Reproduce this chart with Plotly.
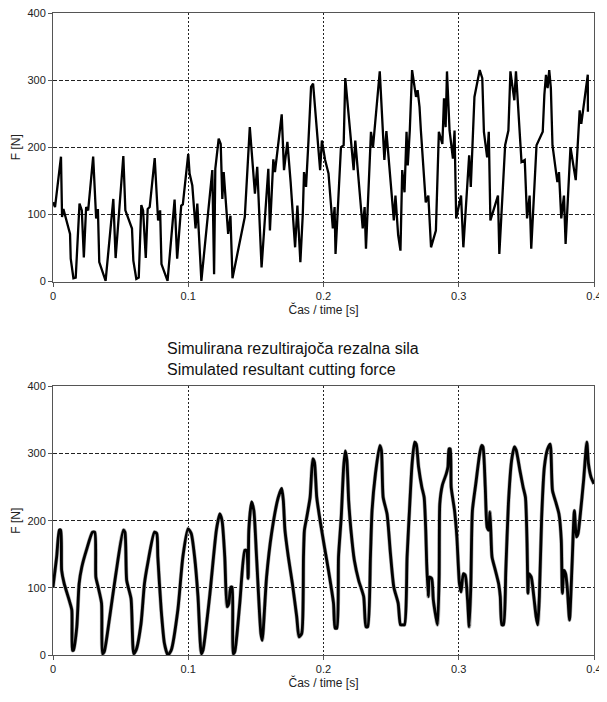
import plotly.graph_objects as go
from plotly.subplots import make_subplots

# Measured (top) force signal
top_t = [0, 0.0015, 0.0059, 0.0067, 0.0077, 0.0126, 0.0131, 0.0151, 0.0168, 0.0196, 0.0213, 0.0228,
         0.0245, 0.0260, 0.0297, 0.0319, 0.0332, 0.0342, 0.0389, 0.0446, 0.0463, 0.0520, 0.0535,
         0.0584, 0.0594, 0.0616, 0.0634, 0.0653, 0.0666, 0.0686, 0.0700, 0.0715, 0.0752, 0.0777,
         0.0792, 0.0802, 0.0847, 0.0899, 0.0918, 0.0948, 0.0960, 0.1000, 0.1010, 0.1030, 0.1054,
         0.1067, 0.1097, 0.1178, 0.1191, 0.1200, 0.1225, 0.1240, 0.1252, 0.1262, 0.1295, 0.1312,
         0.1327, 0.1418, 0.1455, 0.1493, 0.1510, 0.1542, 0.1592, 0.1604, 0.1629, 0.1641, 0.1691,
         0.1708, 0.1733, 0.1757, 0.1790, 0.1807, 0.1829, 0.1847, 0.1856, 0.1871, 0.1889, 0.1908,
         0.1923, 0.1975, 0.1988, 0.2012, 0.2037, 0.2069, 0.2082, 0.2089, 0.2129, 0.2149, 0.2161,
         0.2223, 0.2235, 0.2260, 0.2290, 0.2304, 0.2314, 0.2351, 0.2366, 0.2416, 0.2450, 0.2465,
         0.2520, 0.2532, 0.2552, 0.2569, 0.2582, 0.2599, 0.2614, 0.2623, 0.2638, 0.2655, 0.2684,
         0.2696, 0.2710, 0.2720, 0.2739, 0.2756, 0.2775, 0.2795, 0.2831, 0.2845, 0.2853, 0.2879,
         0.2891, 0.2903, 0.2913, 0.2932, 0.2957, 0.2969, 0.2981, 0.3017, 0.3034, 0.3077, 0.3089,
         0.3101, 0.3116, 0.3155, 0.3174, 0.3186, 0.3210, 0.3222, 0.3234, 0.3290, 0.3300, 0.3343,
         0.3367, 0.3382, 0.3411, 0.3423, 0.3435, 0.3447, 0.3464, 0.3488, 0.3505, 0.3524, 0.3536,
         0.3575, 0.3621, 0.3633, 0.3645, 0.3657, 0.3669, 0.3681, 0.3693, 0.3729, 0.3741, 0.3758,
         0.3778, 0.3790, 0.3826, 0.3865, 0.3894, 0.3906, 0.3954, 0.3955, 0.4000]
top_f = [118, 111, 186, 96, 108, 71, 34, 5, 6, 116, 106, 36,
         111, 106, 186, 94, 108, 29, 1, 123, 35, 187, 106,
         79, 31, 4, 6, 114, 106, 35, 108, 111, 184, 91,
         106, 26, 1, 122, 34, 113, 115, 190, 161, 143, 79,
         116, 1, 166, 11, 168, 213, 205, 123, 163, 71, 98,
         5, 96, 230, 131, 171, 21, 168, 76, 182, 163, 249,
         166, 208, 148, 51, 113, 29, 101, 163, 141, 210, 290,
         295, 166, 210, 181, 161, 79, 111, 41, 200, 203, 303,
         166, 210, 151, 79, 111, 49, 223, 200, 313, 181, 224,
         91, 128, 69, 46, 166, 133, 223, 173, 225, 315,
         275, 285, 260, 225, 163, 118, 128, 51, 76, 178, 223,
         205, 273, 230, 313, 225, 183, 225, 94, 128, 51, 188,
         141, 200, 275, 315, 303, 223, 185, 223, 91, 128, 41,
         203, 225, 313, 270, 313, 270, 223, 178, 181, 94, 128,
         49, 203, 223, 278, 308, 288, 315, 288, 203, 148, 163,
         94, 128, 56, 200, 151, 255, 235, 308, 253]

# Simulated (bottom) force signal
bot_t = [0, 0.0027, 0.0047, 0.0057, 0.0064, 0.0082, 0.0119, 0.0139, 0.0144, 0.0151, 0.0176, 0.0193,
         0.0213, 0.0250, 0.0292, 0.0309, 0.0317, 0.0334, 0.0359, 0.0366, 0.0379, 0.0416, 0.0465,
         0.0520, 0.0532, 0.0545, 0.0577, 0.0597, 0.0614, 0.0651, 0.0676, 0.0700, 0.0750, 0.0767,
         0.0775, 0.0800, 0.0824, 0.0849, 0.0874, 0.0923, 0.0960, 0.0998, 0.1022, 0.1047, 0.1072,
         0.1097, 0.1109, 0.1158, 0.1208, 0.1233, 0.1250, 0.1270, 0.1287, 0.1300, 0.1314, 0.1324,
         0.1332, 0.1344, 0.1381, 0.1418, 0.1431, 0.1443, 0.1448, 0.1468, 0.1485, 0.1505, 0.1537,
         0.1547, 0.1579, 0.1616, 0.1666, 0.1691, 0.1703, 0.1715, 0.1740, 0.1770, 0.1802, 0.1819,
         0.1839, 0.1852, 0.1859, 0.1876, 0.1901, 0.1921, 0.1933, 0.1950, 0.1975, 0.2007, 0.2037,
         0.2074, 0.2086, 0.2099, 0.2111, 0.2131, 0.2149, 0.2161, 0.2173, 0.2186, 0.2203, 0.2228,
         0.2260, 0.2297, 0.2314, 0.2327, 0.2347, 0.2359, 0.2384, 0.2416, 0.2428, 0.2441, 0.2470,
         0.2495, 0.2520, 0.2552, 0.2569, 0.2582, 0.2599, 0.2618, 0.2638, 0.2655, 0.2674, 0.2686,
         0.2703, 0.2727, 0.2744, 0.2756, 0.2763, 0.2775, 0.2783, 0.2800, 0.2812, 0.2831, 0.2843,
         0.2855, 0.2860, 0.2879, 0.2908, 0.2920, 0.2928, 0.2937, 0.2944, 0.2969, 0.2986, 0.3005,
         0.3017, 0.3034, 0.3048, 0.3065, 0.3077, 0.3089, 0.3101, 0.3126, 0.3155, 0.3169, 0.3179,
         0.3196, 0.3210, 0.3222, 0.3230, 0.3237, 0.3246, 0.3271, 0.3295, 0.3307, 0.3319, 0.3331,
         0.3348, 0.3367, 0.3391, 0.3411, 0.3425, 0.3452, 0.3476, 0.3493, 0.3505, 0.3512, 0.3519,
         0.3536, 0.3555, 0.3572, 0.3584, 0.3596, 0.3613, 0.3633, 0.3657, 0.3676, 0.3693, 0.3717,
         0.3741, 0.3758, 0.3766, 0.3778, 0.3790, 0.3802, 0.3819, 0.3838, 0.3855, 0.3870, 0.3882,
         0.3899, 0.3923, 0.3947, 0.3959, 0.3978, 0.4000]
bot_f = [101, 146, 186, 186, 126, 107, 82, 67, 7, 7, 42, 106,
         131, 158, 183, 183, 116, 101, 77, 2, 5, 52, 121,
         186, 183, 111, 84, 2, 7, 47, 106, 136, 183, 181,
         146, 67, 17, 0, 7, 67, 146, 188, 181, 146, 87,
         2, 7, 87, 186, 210, 200, 146, 72, 77, 101, 101,
         2, 5, 77, 156, 156, 114, 186, 228, 215, 146, 32,
         22, 116, 181, 235, 248, 230, 186, 146, 106, 57, 27,
         32, 146, 186, 205, 235, 292, 287, 235, 200, 161, 126,
         77, 40, 40, 146, 205, 280, 304, 290, 230, 186, 141,
         111, 87, 42, 42, 146, 215, 270, 312, 305, 235, 210,
         151, 101, 77, 45, 45, 45, 146, 225, 285, 317, 314,
         280, 250, 235, 186, 136, 87, 116, 114, 82, 57, 45,
         116, 225, 253, 270, 280, 307, 307, 250, 215, 176, 106,
         94, 121, 119, 82, 42, 101, 215, 255, 300, 312, 310,
         250, 190, 186, 213, 186, 146, 126, 106, 87, 45, 45,
         126, 225, 290, 310, 305, 275, 250, 235, 166, 92, 121,
         116, 87, 57, 45, 87, 205, 280, 307, 314, 245, 228,
         210, 171, 92, 126, 121, 101, 52, 136, 215, 176, 181,
         210, 260, 317, 285, 265, 255]

title_lines = ["Simulirana rezultirajoča rezalna sila", "Simulated resultant cutting force"]
x_title = "Čas / time [s]"
y_title = "F [N]"
x_ticks = [0, 0.1, 0.2, 0.3, 0.4]
x_ticktext = ["0", "0.1", "0.2", "0.3", "0.4"]
y_ticks = [0, 100, 200, 300, 400]

FONT = "Liberation Sans, Arial, sans-serif"

fig = make_subplots(rows=2, cols=1, vertical_spacing=0.1634)
fig.add_trace(go.Scatter(x=top_t, y=top_f, mode="lines",
                         line=dict(color="black", width=2.3), showlegend=False), row=1, col=1)
# faint gray halo under the simulated curve
fig.add_trace(go.Scatter(x=bot_t, y=bot_f, mode="lines",
                         line=dict(color="#aaaaaa", width=4, shape="spline", smoothing=0.6),
                         showlegend=False), row=2, col=1)
fig.add_trace(go.Scatter(x=bot_t, y=bot_f, mode="lines",
                         line=dict(color="black", width=2.8, shape="spline", smoothing=0.6),
                         showlegend=False), row=2, col=1)

for r in (1, 2):
    fig.update_xaxes(row=r, col=1, range=[0, 0.4], tickvals=x_ticks, ticktext=x_ticktext,
                     showgrid=True, gridcolor="#222", gridwidth=1, griddash="2px,2px",
                     showline=True, linecolor="#555", linewidth=1, mirror=True,
                     ticks="outside", ticklen=4, tickcolor="#555", zeroline=False, automargin=False,
                     ticklabeloverflow="allow",
                     tickfont=dict(family=FONT, size=11, color="#222"),
                     title=dict(text=x_title, font=dict(family=FONT, size=12, color="#222"), standoff=4))
    fig.update_yaxes(row=r, col=1, range=[0, 400], tickvals=y_ticks,
                     showgrid=True, gridcolor="#222", gridwidth=1, griddash="4px,2px",
                     showline=True, linecolor="#555", linewidth=1, mirror=True,
                     ticks="outside", ticklen=4, tickcolor="#555", zeroline=False, automargin=False,
                     ticklabeloverflow="allow",
                     tickfont=dict(family=FONT, size=11, color="#222"),
                     title=dict(text=y_title, font=dict(family=FONT, size=12, color="#222"), standoff=4))

fig.add_annotation(xref="paper", yref="paper", x=0.207, y=0.494, xanchor="left", yanchor="top",
                   align="left", showarrow=False,
                   text="<br>".join(title_lines),
                   font=dict(family=FONT, size=16, color="#111"))

# the page body adds an 8px offset; size the figure so the plot areas land where the reference has them
fig.update_layout(width=599, height=694, margin=dict(l=45, r=13, t=5, b=47),
                  paper_bgcolor="white", plot_bgcolor="white")

fig.write_html("out.html")
